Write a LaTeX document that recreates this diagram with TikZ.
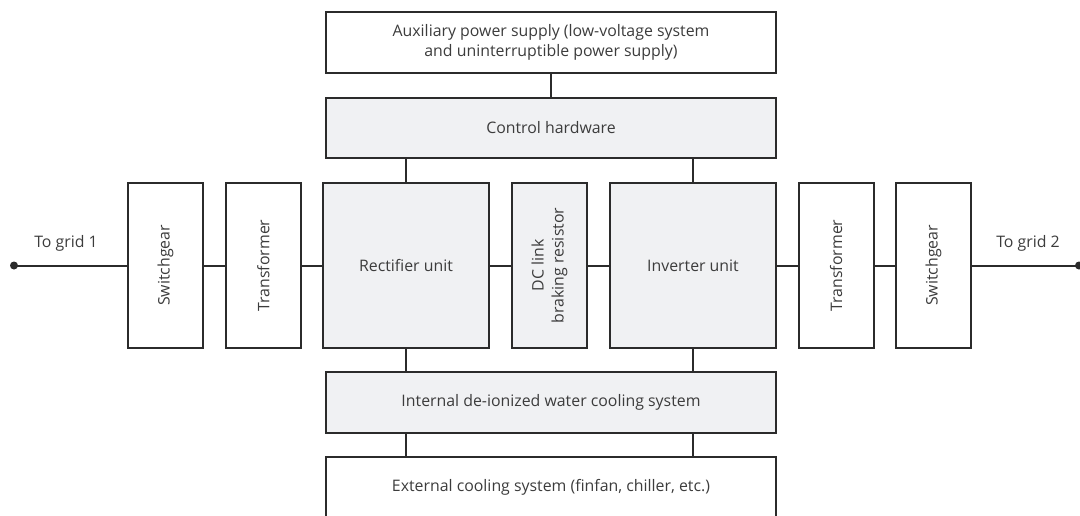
\documentclass[tikz,border=0pt]{standalone}
\usepackage{fontspec}
\setmainfont{Open Sans}
\definecolor{boxgray}{HTML}{F0F1F3}
\definecolor{linegray}{HTML}{2B2B2B}
\definecolor{textgray}{HTML}{3C3C3C}

\begin{document}
\begin{tikzpicture}[x=0.75pt, y=-0.75pt, font=\fontsize{11.9}{15}\selectfont,
  wide/.style={draw=linegray, line width=1.5pt, minimum width=337.5pt, minimum height=45.75pt, align=center, text=textgray},
  tall/.style={draw=linegray, line width=1.5pt, minimum width=123.75pt, minimum height=56.25pt, rotate=90, align=center, text=textgray},
  unit/.style={draw=linegray, line width=1.5pt, fill=boxgray, minimum width=124.5pt, minimum height=123.75pt, text=textgray},
  link/.style={draw=linegray, line width=1.5pt}]
  \useasboundingbox (0,0) rectangle (1080,515);

  % Supply and control
  \node (aux) at (551,42.5) [wide] {Auxiliary power supply (low-voltage system\\and uninterruptible power supply)};
  \node (ctrl) at (551,128) [wide, fill=boxgray, minimum height=45pt] {Control hardware};

  % Main chain
  \node (swL) at (165.5,265.5) [tall] {Switchgear};
  \node (trL) at (263.5,265.5) [tall] {Transformer};
  \node (rect) at (406,265.5) [unit] {Rectifier unit};
  \node (dc) at (549.5,265.5) [tall, fill=boxgray] {DC link\\braking resistor};
  \node (inv) at (693,265.5) [unit] {Inverter unit};
  \node (trR) at (836,265.5) [tall] {Transformer};
  \node (swR) at (933.5,265.5) [tall] {Switchgear};

  % Cooling
  \node (int) at (551,402.5) [wide, fill=boxgray] {Internal de-ionized water cooling system};
  \node (ext) at (551,487.5) [wide] {External cooling system (finfan, chiller, etc.)};

  % Grid terminals
  \coordinate (g1) at (14,265.5);
  \coordinate (g2) at (1079,265.5);
  \fill[linegray] (g1) circle (3pt);
  \fill[linegray] (g2) circle (3pt);
  \node (t1) at (66,243) [text=textgray] {To grid 1};
  \node (t2) at (1028,243) [text=textgray] {To grid 2};

  % Connections
  \draw[link] (g1) -- (swL);
  \draw[link] (swL) -- (trL);
  \draw[link] (trL) -- (rect);
  \draw[link] (rect) -- (dc);
  \draw[link] (dc) -- (inv);
  \draw[link] (inv) -- (trR);
  \draw[link] (trR) -- (swR);
  \draw[link] (swR) -- (g2);
  \draw[link] (aux) -- (ctrl);
  \draw[link] (rect.north) -- (rect.north |- ctrl.south);
  \draw[link] (inv.north) -- (inv.north |- ctrl.south);
  \draw[link] (rect.south) -- (rect.south |- int.north);
  \draw[link] (inv.south) -- (inv.south |- int.north);
  \draw[link] (rect |- int.south) -- (rect |- ext.north);
  \draw[link] (inv |- int.south) -- (inv |- ext.north);
\end{tikzpicture}
\end{document}
